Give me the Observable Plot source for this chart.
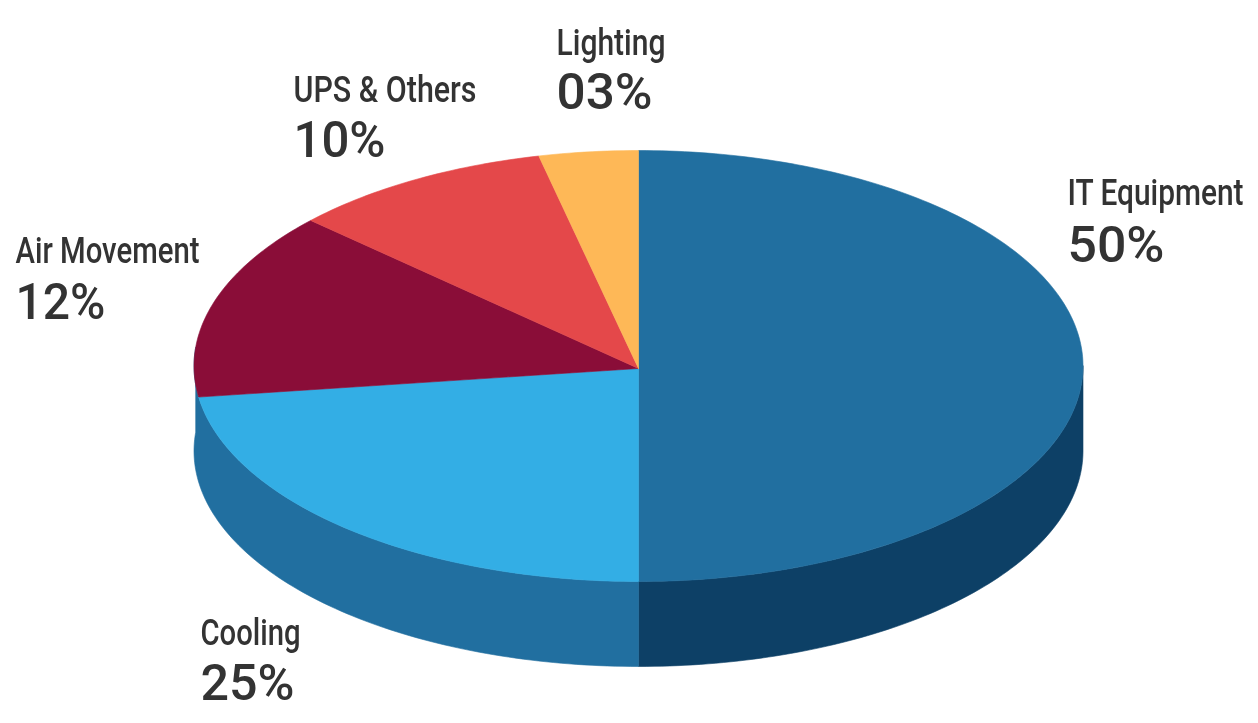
<!DOCTYPE html>
<html>
<head>
<meta charset="utf-8">
<script src="https://cdn.jsdelivr.net/npm/d3@7"></script>
<script src="https://cdn.jsdelivr.net/npm/@observablehq/plot@0.6"></script>
<style>
html,body{margin:0;padding:0;background:#fff;overflow:hidden}
svg{display:block}
svg text{filter:blur(0.5px)}
</style>
</head>
<body>
<div id="chart"></div>
<script>
// Data
const categories = ["IT Equipment", "Cooling", "Air Movement", "UPS & Others", "Lighting"];
const percentLabels = ["50%", "25%", "12%", "10%", "03%"];
// Share of the ellipse each wedge actually occupies in the drawing
const drawnShares = [50, 22.7, 14.1, 9.6, 3.6];
const sliceColors = ["#216fa0", "#33aee5", "#8a0d38", "#e4484a", "#feb857"];

// Layout of the tilted disc
const W = 1258, H = 723;
const disc = {cx: 638, cy: 365.5, rx: 444.5, ry: 215.5, hubY: 368, depth: 85};
const sideColors = {right: "#0d4066", left: "#216fa0"};
const ink = "#333333";
const labelFont = "Roboto,'Liberation Sans',sans-serif";
const labelAnchors = [[1067,204,261],[200,644,699],[15,262,318],[293,101,156],[556,54,108]];
const nameWidths = [176, 100, 184, 183, 109];
const pctWidths = [97, 94, 90, 92, 96];

const rim = (deg, drop = 0) => {
  const t = deg * Math.PI / 180;
  return {x: disc.cx + disc.rx * Math.sin(t), y: disc.cy - disc.ry * Math.cos(t) + drop};
};
const arc = (a, b, drop = 0) => {
  const n = Math.max(2, Math.ceil(Math.abs(b - a)));
  return d3.range(n + 1).map(i => rim(a + (b - a) * i / n, drop));
};
const wall = (a, b) => [...arc(a, b), ...arc(b, a, disc.depth)];

const total = d3.sum(drawnShares);
let acc = 0;
const wedges = drawnShares.map((s, i) => {
  const a = acc / total * 360; acc += s; const b = acc / total * 360;
  return {color: sliceColors[i], pts: [{x: disc.cx, y: disc.hubY}, ...arc(a, b)]};
});

const poly = (pts, color) => Plot.line([...pts, pts[0]], {x: "x", y: "y", fill: color, stroke: color, strokeWidth: 0.6});

const labelRows = categories.map((c, i) => ({name: c, pct: percentLabels[i], x: labelAnchors[i][0], y1: labelAnchors[i][1], y2: labelAnchors[i][2]}));

// fit the glyphs to the condensed, tall proportions of the original lettering
const fitTo = (widths, stretch = 1) => (index, scales, values, dims, ctx, next) => {
  const g = next(index, scales, values, dims, ctx);
  g.querySelectorAll("text").forEach((t, k) => {
    t.setAttribute("textLength", widths[index[k]]);
    t.setAttribute("lengthAdjust", "spacingAndGlyphs");
    if (stretch !== 1) t.setAttribute("transform", `${t.getAttribute("transform")} scale(1,${stretch})`);
  });
  return g;
};

const chart = Plot.plot({
  width: W, height: H,
  margin: 0,
  x: {domain: [0, W], range: [0, W], axis: null},
  y: {domain: [0, H], range: [0, H], axis: null},
  style: {background: "#fff"},
  marks: [
    poly(wall(90, 180), sideColors.right),
    poly(wall(180, 275), sideColors.left),
    ...wedges.map(w => poly(w.pts, w.color)),
    Plot.text(labelRows, {x: "x", y: "y1", text: "name", textAnchor: "start", lineAnchor: "bottom", fill: ink, fontSize: 29, fontFamily: labelFont, fontWeight: 500, render: fitTo(nameWidths, 1.276)}),
    Plot.text(labelRows, {x: "x", y: "y2", text: "pct", textAnchor: "start", lineAnchor: "bottom", fill: ink, fontSize: 50, fontFamily: labelFont, fontWeight: 500, render: fitTo(pctWidths)})
  ]
});
document.getElementById("chart").append(chart);
</script>
</body>
</html>
